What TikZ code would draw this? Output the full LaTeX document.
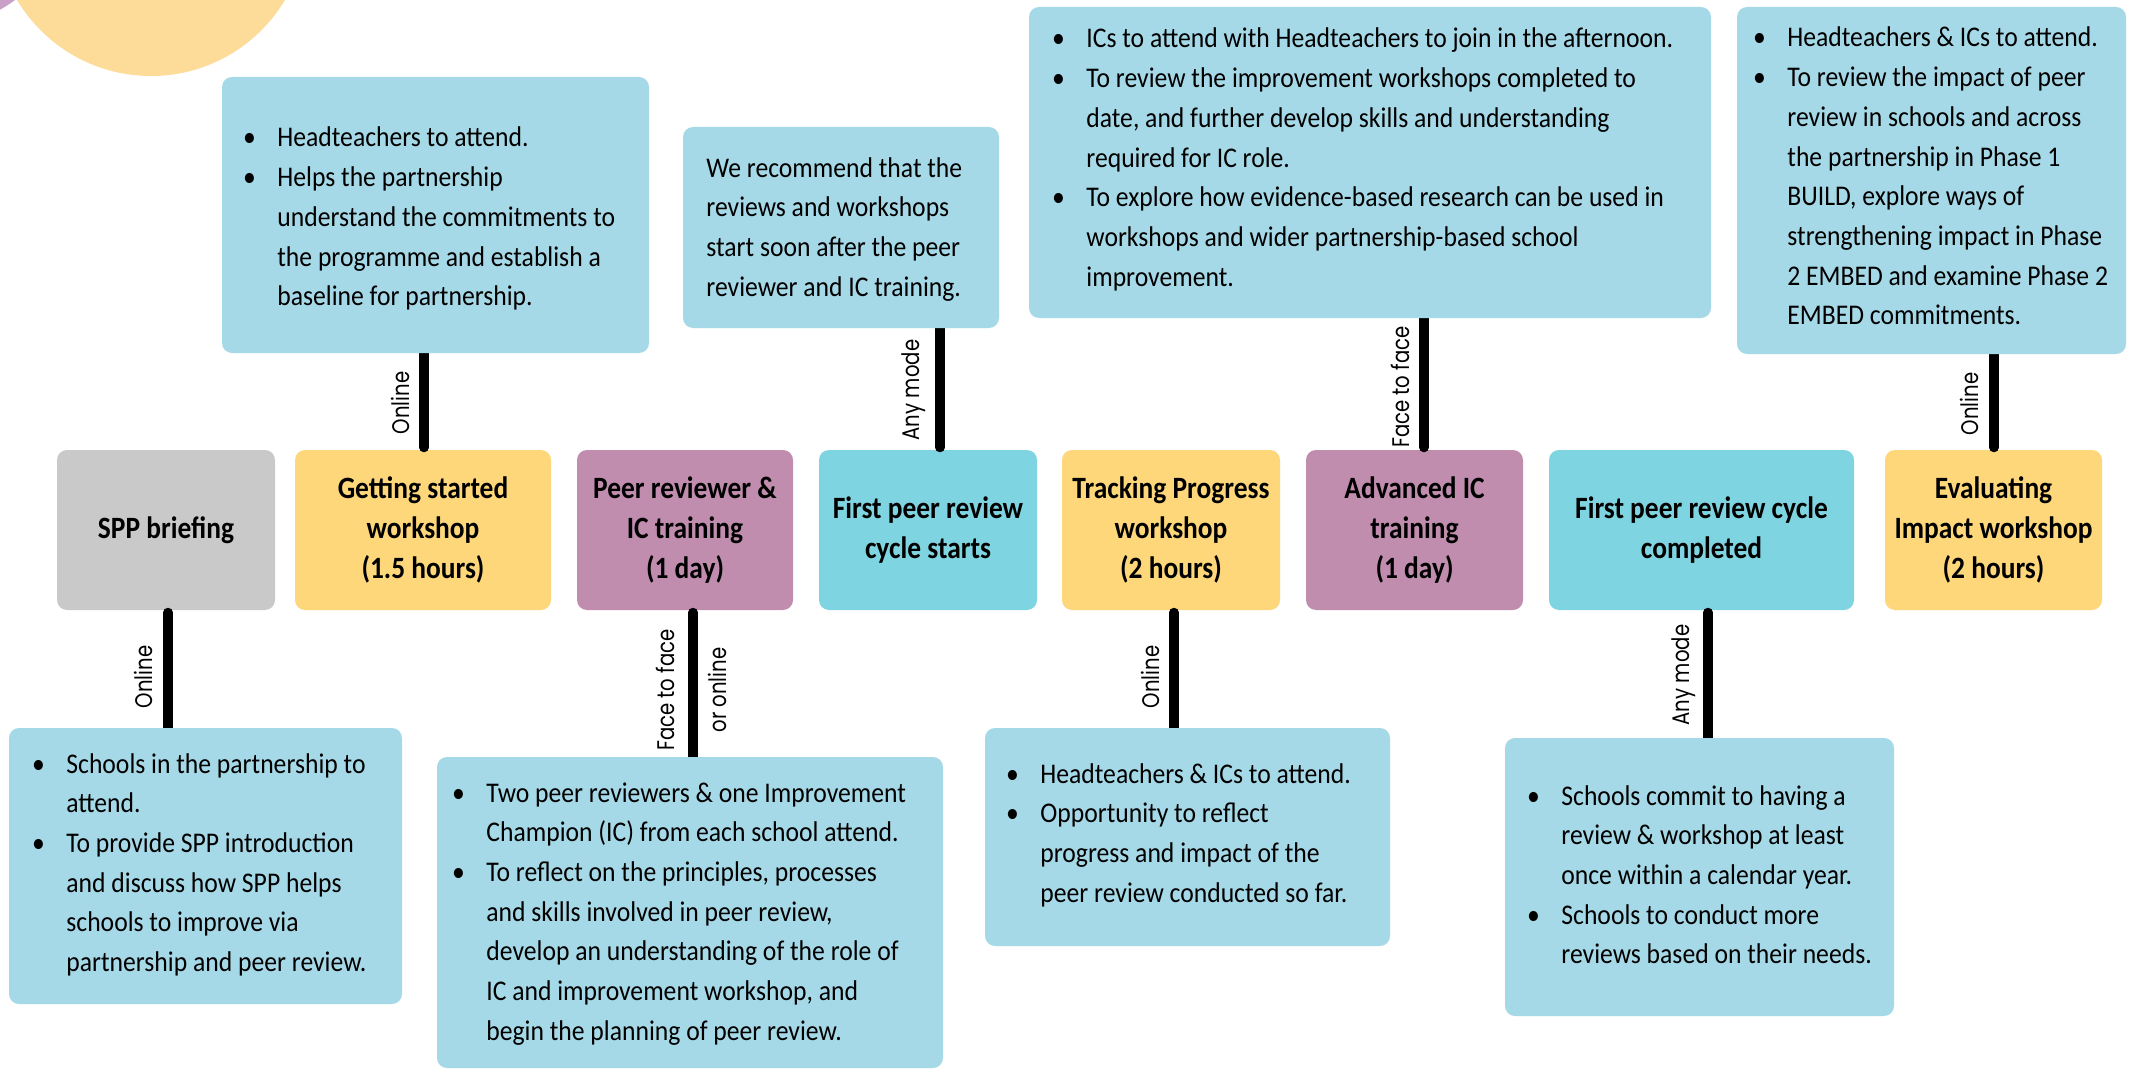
\documentclass[tikz,border=0pt]{standalone}
\usepackage{fontspec}
\setmainfont{Carlito}
\newfontfamily\bodyf{Carlito}[FakeStretch=0.9]
\newfontfamily\titlef{Carlito}[FakeStretch=0.885]
\newfontfamily\labf{Poppins}[FakeStretch=0.82]
\usetikzlibrary{fit,calc}
\definecolor{cgray}{HTML}{C9C9C9}
\definecolor{cyellow}{HTML}{FDD77A}
\definecolor{cpurple}{HTML}{C08DAF}
\definecolor{ccyan}{HTML}{7FD4E1}
\definecolor{cdesc}{HTML}{A6D9E7}
\definecolor{ccircle}{HTML}{FDDB98}
\definecolor{ccirclep}{HTML}{C8A0C8}
\newcommand{\bl}{\makebox[0pt][c]{•}\hspace*{14pt}}
\newcommand{\cl}{\hspace*{14pt}}
\newcommand{\tlines}[1]{\begin{tabular}[t]{@{}l@{}}#1\end{tabular}}
\tikzset{
  boxbase/.style={inner sep=0pt, outer sep=0pt, rounded corners=5pt, draw=none},
  mainbox/.style={boxbase},
  descbox/.style={boxbase, fill=cdesc},
  ttl/.style={align=center, inner sep=0pt, text=black,
    font=\titlef\bfseries\fontsize{15.5pt}{20pt}\selectfont},
  body/.style={anchor=base west, inner sep=0pt, text=black,
    font=\bodyf\fontsize{14.25pt}{19.85pt}\selectfont},
  lab/.style={rotate=90, inner sep=0pt, text=black, align=center,
    font=\labf\fontsize{12pt}{26pt}\selectfont},
  conn/.style={line width=4.75pt, line cap=round, draw=black}
}
\begin{document}
\begin{tikzpicture}[x=0.5pt, y=-0.5pt]
\useasboundingbox (0,0) rectangle (2132,1070);
\fill[white] (0,0) rectangle (2132,1070);
\clip (0,0) rectangle (2132,1070);

% decorative circles
\fill[ccirclep] (-60,-100) circle[radius=62.5pt];
\fill[ccircle] (151,-80) circle[radius=78pt];

% main timeline boxes
\node[mainbox, fill=cgray,   fit={(57,450)(275,610)}]   (s1) {};
\node[mainbox, fill=cyellow, fit={(295,450)(551,610)}]  (s2) {};
\node[mainbox, fill=cpurple, fit={(577,450)(793,610)}]  (s3) {};
\node[mainbox, fill=ccyan,   fit={(819,450)(1037,610)}] (s4) {};
\node[mainbox, fill=cyellow, fit={(1062,450)(1280,610)}] (s5) {};
\node[mainbox, fill=cpurple, fit={(1306,450)(1523,610)}] (s6) {};
\node[mainbox, fill=ccyan,   fit={(1549,450)(1854,610)}] (s7) {};
\node[mainbox, fill=cyellow, fit={(1885,450)(2102,610)}] (s8) {};

\node[ttl] (t1) at (s1.center) {SPP briefing};
\node[ttl] (t2) at (s2.center) {Getting started\\workshop\\(1.5 hours)};
\node[ttl] (t3) at (s3.center) {Peer reviewer \&\\IC training\\(1 day)};
\node[ttl] (t4) at (s4.center) {First peer review\\cycle starts};
\node[ttl] (t5) at (s5.center) {Tracking Progress\\workshop\\(2 hours)};
\node[ttl] (t6) at (s6.center) {Advanced IC\\training\\(1 day)};
\node[ttl] (t7) at (s7.center) {First peer review cycle\\completed};
\node[ttl] (t8) at (s8.center) {Evaluating\\Impact workshop\\(2 hours)};

% description boxes (positions only, drawn after connectors)
\path (222,77) coordinate (Aa) (649,353) coordinate (Ab);
\path (683,127) coordinate (Ba) (999,328) coordinate (Bb);
\path (1029,7) coordinate (Ca) (1711,318) coordinate (Cb);
\path (1737,7) coordinate (Da) (2126,354) coordinate (Db);
\path (9,728) coordinate (Ea) (402,1004) coordinate (Eb);
\path (437,757) coordinate (Fa) (943,1068) coordinate (Fb);
\path (985,728) coordinate (Ga) (1390,946) coordinate (Gb);
\path (1505,738) coordinate (Ha) (1894,1016) coordinate (Hb);
\node[boxbase, fit=(Aa)(Ab)] (A) {};
\node[boxbase, fit=(Ba)(Bb)] (B) {};
\node[boxbase, fit=(Ca)(Cb)] (C) {};
\node[boxbase, fit=(Da)(Db)] (D) {};
\node[boxbase, fit=(Ea)(Eb)] (E) {};
\node[boxbase, fit=(Fa)(Fb)] (F) {};
\node[boxbase, fit=(Ga)(Gb)] (G) {};
\node[boxbase, fit=(Ha)(Hb)] (H) {};

% connectors
\draw[conn] ([xshift=1pt,yshift=-1.25pt]s1.south) -- ([xshift=1pt]s1.south |- E.north);
\draw[conn] ([xshift=0.5pt,yshift=1.25pt]s2.north) -- ([xshift=0.5pt]s2.north |- A.south);
\draw[conn] ([xshift=4pt,yshift=-1.25pt]s3.south) -- ([xshift=4pt]s3.south |- F.north);
\draw[conn] ([xshift=6pt,yshift=1.25pt]s4.north) -- ([xshift=6pt]s4.north |- B.south);
\draw[conn] ([xshift=1.5pt,yshift=-1.25pt]s5.south) -- ([xshift=1.5pt]s5.south |- G.north);
\draw[conn] ([xshift=4.75pt,yshift=1.25pt]s6.north) -- ([xshift=4.75pt]s6.north |- C.south);
\draw[conn] ([xshift=3.25pt,yshift=-1.25pt]s7.south) -- ([xshift=3.25pt]s7.south |- H.north);
\draw[conn] ([xshift=0.25pt,yshift=1.25pt]s8.north) -- ([xshift=0.25pt]s8.north |- D.south);

% connector labels
\node[lab] (l1) at (143,677) {Online};
\node[lab] (l2) at (400,403) {Online};
\node[lab] (l3) at (691,690) {Face to face\\or online};
\node[lab] (l4) at (914,390) {Any mode};
\node[lab] (l5) at (1150,677) {Online};
\node[lab] (l6) at (1400,387) {Face to face};
\node[lab] (l7) at (1684,675) {Any mode};
\node[lab] (l8) at (1969,404) {Online};

% description boxes fill
\foreach \b in {A,B,C,D,E,F,G,H} {
  \fill[cdesc, rounded corners=5pt] (\b.north west) rectangle (\b.south east);
}

% description texts
\node[body] (xA) at (249,147) {\tlines{%
\bl Headteachers to attend.\\
\bl Helps the partnership\\
\cl understand the commitments to\\
\cl the programme and establish a\\
\cl baseline for partnership.}};
\node[body] (xB) at (706,177) {\tlines{%
We recommend that the\\
reviews and workshops\\
start soon after the peer\\
reviewer and IC training.}};
\node[body] (xC) at (1058,48) {\tlines{%
\bl ICs to attend with Headteachers to join in the afternoon.\\
\bl To review the improvement workshops completed to\\
\cl date, and further develop skills and understanding\\
\cl required for IC role.\\
\bl To explore how evidence-based research can be used in\\
\cl workshops and wider partnership-based school\\
\cl improvement.}};
\node[body] (xD) at (1759,47) {\tlines{%
\bl Headteachers \& ICs to attend.\\
\bl To review the impact of peer\\
\cl review in schools and across\\
\cl the partnership in Phase 1\\
\cl BUILD, explore ways of\\
\cl strengthening impact in Phase\\
\cl 2 EMBED and examine Phase 2\\
\cl EMBED commitments.}};
\node[body] (xE) at (38,773) {\tlines{%
\bl Schools in the partnership to\\
\cl attend.\\
\bl To provide SPP introduction\\
\cl and discuss how SPP helps\\
\cl schools to improve via\\
\cl partnership and peer review.}};
\node[body] (xF) at (458,802) {\tlines{%
\bl Two peer reviewers \& one Improvement\\
\cl Champion (IC) from each school attend.\\
\bl To reflect on the principles, processes\\
\cl and skills involved in peer review,\\
\cl develop an understanding of the role of\\
\cl IC and improvement workshop, and\\
\cl begin the planning of peer review.}};
\node[body] (xG) at (1012,783) {\tlines{%
\bl Headteachers \& ICs to attend.\\
\bl Opportunity to reflect\\
\cl progress and impact of the\\
\cl peer review conducted so far.}};
\node[body] (xH) at (1533,805) {\tlines{%
\bl Schools commit to having a\\
\cl review \& workshop at least\\
\cl once within a calendar year.\\
\bl Schools to conduct more\\
\cl reviews based on their needs.}};
\end{tikzpicture}
\end{document}
